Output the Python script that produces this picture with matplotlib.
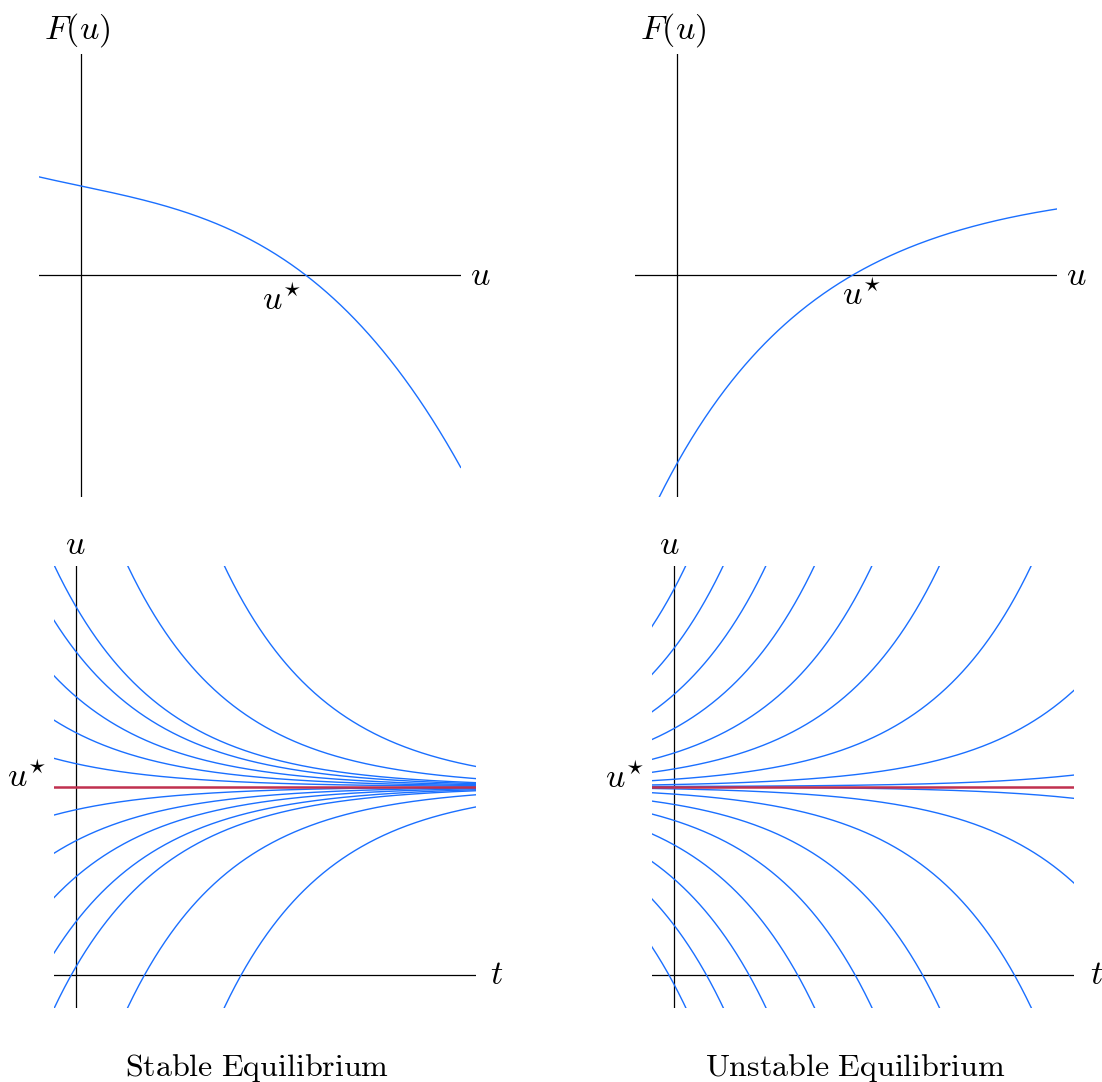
import numpy as np
import matplotlib
matplotlib.use('Agg')
import matplotlib.pyplot as plt

plt.rcParams['mathtext.fontset'] = 'cm'

W, H = 1102, 1082
blue = '#1a6fff'
red = '#c0304f'

# values (1 unit = 100 px)
# top-left: F(u) decreasing, cubic F = f0 - a1*u - a3*u^3
stable_f0, stable_a1, stable_a3 = 0.893, 0.2109, 0.03677
stable_u_range = (-0.423, 3.797)

# top-right: F(u) increasing, F = A*(1 - exp(-k*(u - u*)))
unstable_A, unstable_k = 0.9086, 0.64
unstable_ustar_F = 1.75
unstable_u_range = (-0.19, 3.794)

# bottom: trajectories u(t) = u* + c*exp(-+ r t), offsets c at t = 0
u_star = 1.88
stable_rate = 0.95
stable_offsets = [0.23, 0.54, 0.90, 1.35, 1.80, 3.61, 9.04]
unstable_rate = 0.95
unstable_offsets = [0.0026, 0.0215, 0.074, 0.177, 0.336, 0.58, 0.92, 1.38, 1.97]
t_range = (-0.22, 4.01)

fig = plt.figure(figsize=(W / 100, H / 100), dpi=100)


def panel(left, right, top, bottom, ox, oy):
    ax = fig.add_axes([left / W, 1 - bottom / H, (right - left) / W, (bottom - top) / H])
    ax.set_xlim((left - ox) / 100, (right - ox) / 100)
    ax.set_ylim((oy - bottom) / 100, (oy - top) / 100)
    ax.axis('off')
    ax.axhline(0, color='black', lw=0.9)
    ax.axvline(0, color='black', lw=0.9)
    return ax


fs = 23
fs_math = 24.5
ustar_lbl = r'$u^{\star}$'

# top-left
ax = panel(38.7, 460.7, 54.3, 496.7, 81, 275.3)
u = np.linspace(*stable_u_range, 300)
ax.plot(u, stable_f0 - stable_a1 * u - stable_a3 * u**3, color=blue, lw=1.0)
ax.text(-0.04, 2.45, r'$F(u)$', fontsize=fs_math, ha='center', va='center', clip_on=False)
ax.text(3.99, 0.0, r'$u$', fontsize=fs_math, ha='center', va='center', clip_on=False)
ax.text(2.01, -0.25, ustar_lbl, fontsize=fs_math, ha='center', va='center')

# top-right
ax = panel(635, 1056.7, 54.3, 496.7, 677.3, 275.3)
u = np.linspace(*unstable_u_range, 300)
ax.plot(u, unstable_A * (1 - np.exp(-unstable_k * (u - unstable_ustar_F))), color=blue, lw=1.0)
ax.text(-0.04, 2.45, r'$F(u)$', fontsize=fs_math, ha='center', va='center', clip_on=False)
ax.text(3.99, 0.0, r'$u$', fontsize=fs_math, ha='center', va='center', clip_on=False)
ax.text(1.84, -0.2, ustar_lbl, fontsize=fs_math, ha='center', va='center')

# bottom-left: stable
ax = panel(54.3, 476, 566, 1008.3, 76, 974.7)
t = np.linspace(*t_range, 400)
for c in stable_offsets:
    for s in (1, -1):
        ax.plot(t, u_star + s * c * np.exp(-stable_rate * t), color=blue, lw=1.0)
ax.axhline(u_star, color=red, lw=1.8)
ax.text(-0.01, 4.30, r'$u$', fontsize=fs_math, ha='center', va='center', clip_on=False)
ax.text(4.21, 0.0, r'$t$', fontsize=fs_math, ha='center', va='center', clip_on=False)
ax.text(-0.49, u_star + 0.09, ustar_lbl, fontsize=fs_math, ha='center', va='center', clip_on=False)

# bottom-right: unstable
ax = panel(652.3, 1074, 566, 1008.3, 673.7, 974.7)
for c in unstable_offsets:
    for s in (1, -1):
        ax.plot(t, u_star + s * c * np.exp(unstable_rate * t), color=blue, lw=1.0)
ax.axhline(u_star, color=red, lw=1.8)
ax.text(-0.04, 4.30, r'$u$', fontsize=fs_math, ha='center', va='center', clip_on=False)
ax.text(4.23, 0.0, r'$t$', fontsize=fs_math, ha='center', va='center', clip_on=False)
ax.text(-0.49, u_star + 0.08, ustar_lbl, fontsize=fs_math, ha='center', va='center', clip_on=False)

fig.text(257 / W, 1 - 1068 / H, r'$\mathrm{Stable\ Equilibrium}$', fontsize=fs, ha='center', va='center')
fig.text(855 / W, 1 - 1068 / H, r'$\mathrm{Unstable\ Equilibrium}$', fontsize=fs, ha='center', va='center')

fig.savefig('out.png', dpi=100)
